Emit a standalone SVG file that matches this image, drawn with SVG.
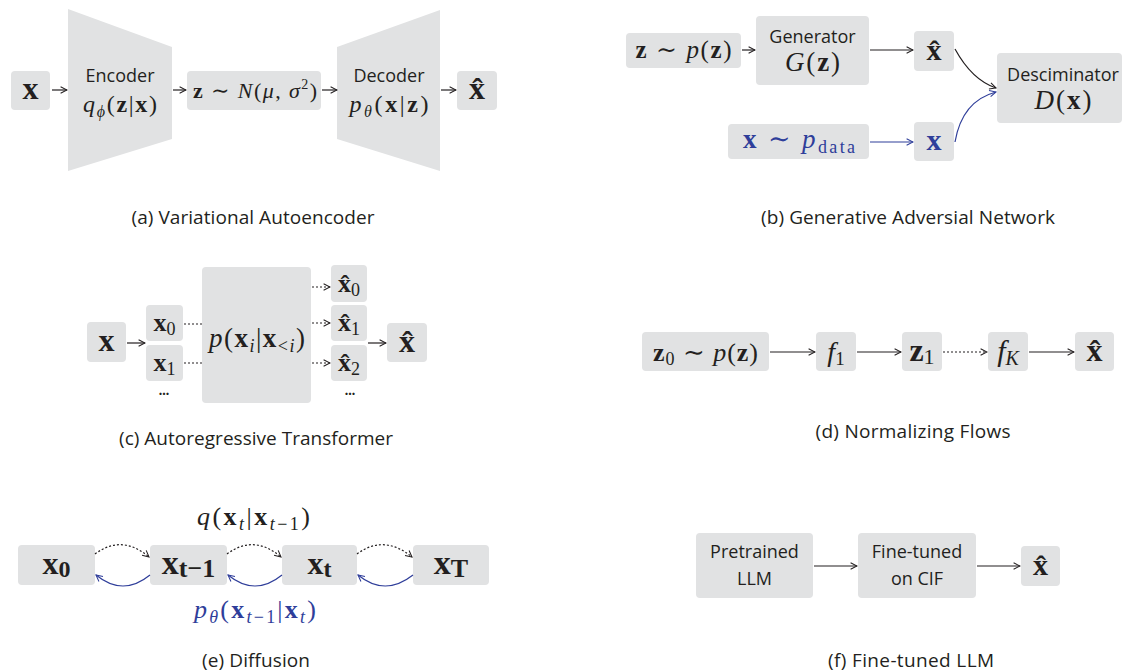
<svg xmlns="http://www.w3.org/2000/svg" width="1124" height="672" viewBox="0 0 1124 672">
  <style>
    .box { fill: #e1e2e3; }
    .lbl { font-family: "Open Sans", "Noto Sans", sans-serif; fill: #231f20; }
    .cap { font-family: "Open Sans", "Noto Sans", sans-serif; fill: #231f20; font-size: 19px; text-anchor: middle; }
    .m { font-family: "Liberation Serif", "DejaVu Serif", serif; fill: #231f20; text-anchor: middle; }
    .b { font-weight: bold; font-style: normal; }
    .i { font-style: italic; }
    .blue { fill: #2f3e9a; }
    .ln { fill: none; stroke: #231f20; stroke-width: 1.2; }
    .lnb { fill: none; stroke: #2f3e9a; stroke-width: 1.2; }
    .dot { stroke-dasharray: 2 2; }
  </style>
  <defs>
    <marker id="arr" viewBox="0 0 10 10" refX="9" refY="5" markerWidth="8" markerHeight="8" markerUnits="userSpaceOnUse" orient="auto">
      <path d="M1,1 L9,5 L1,9" fill="none" stroke="#231f20" stroke-width="1.3"/>
    </marker>
    <marker id="arrb" viewBox="0 0 10 10" refX="9" refY="5" markerWidth="8" markerHeight="8" markerUnits="userSpaceOnUse" orient="auto">
      <path d="M1,1 L9,5 L1,9" fill="none" stroke="#2f3e9a" stroke-width="1.3"/>
    </marker>
  </defs>

  <!-- (a) Variational Autoencoder -->
  <g id="vae-x">
    <rect class="box" x="11" y="71" width="39" height="39" rx="4"/>
    <text class="m b" x="30.5" y="99" font-size="32">x</text>
  </g>
  <g id="vae-encoder">
    <polygon class="box" points="68,9 172,47 172,139 68,171"/>
    <text class="lbl" x="120" y="82" font-size="18" text-anchor="middle">Encoder</text>
    <text class="m" x="120" y="112" font-size="24" textLength="74" lengthAdjust="spacing"><tspan class="i">q</tspan><tspan class="i" font-size="16" dy="5">ϕ</tspan><tspan dy="-5">(</tspan><tspan class="b">z</tspan>|<tspan class="b">x</tspan>)</text>
  </g>
  <g id="vae-latent">
    <rect class="box" x="187" y="71" width="134" height="39" rx="4"/>
    <text class="m" x="255" y="98" font-size="22" textLength="124" lengthAdjust="spacing"><tspan class="b">z</tspan> ∼ <tspan class="i">N</tspan>(<tspan class="i">μ</tspan>, <tspan class="i">σ</tspan><tspan font-size="14" dy="-9">2</tspan><tspan dy="9">)</tspan></text>
  </g>
  <g id="vae-decoder">
    <polygon class="box" points="337,47 440,10 440,171 337,139"/>
    <text class="lbl" x="389" y="82" font-size="18" text-anchor="middle">Decoder</text>
    <text class="m" x="389" y="112" font-size="24" textLength="79" lengthAdjust="spacing"><tspan class="i">p</tspan><tspan class="i" font-size="16" dy="5">θ</tspan><tspan dy="-5">(</tspan><tspan class="b">x</tspan>|<tspan class="b">z</tspan>)</text>
  </g>
  <g id="vae-xhat">
    <rect class="box" x="457" y="71" width="40" height="39" rx="4"/>
    <text class="m b" x="477" y="99" font-size="32">x̂</text>
  </g>
  <text class="cap" x="253" y="224" textLength="243" lengthAdjust="spacing">(a) Variational Autoencoder</text>

  <!-- (b) Generative Adversarial Network -->
  <g id="gan-noise">
    <rect class="box" x="626" y="33" width="115" height="35" rx="4"/>
    <text class="m" x="683.5" y="58" font-size="25" textLength="96" lengthAdjust="spacing"><tspan class="b">z</tspan> ∼ <tspan class="i">p</tspan>(<tspan class="b">z</tspan>)</text>
  </g>
  <g id="gan-generator">
    <rect class="box" x="756" y="16" width="113" height="69" rx="4"/>
    <text class="lbl" x="812.5" y="43" font-size="18" text-anchor="middle">Generator</text>
    <text class="m" x="812.5" y="71" font-size="27" textLength="55" lengthAdjust="spacing"><tspan class="i">G</tspan>(<tspan class="b">z</tspan>)</text>
  </g>
  <g id="gan-xhat">
    <rect class="box" x="914" y="31" width="40" height="40" rx="4"/>
    <text class="m b" x="934" y="60" font-size="30">x̂</text>
  </g>
  <g id="gan-data">
    <rect class="box" x="728" y="124" width="141" height="35" rx="4"/>
    <text class="m blue" x="799" y="148" font-size="27" textLength="112" lengthAdjust="spacing"><tspan class="b">x</tspan> ∼ <tspan class="i">p</tspan><tspan font-size="18" dy="5">data</tspan></text>
  </g>
  <g id="gan-x">
    <rect class="box" x="914" y="122" width="40" height="39" rx="4"/>
    <text class="m b blue" x="934" y="150" font-size="30">x</text>
  </g>
  <g id="gan-discriminator">
    <rect class="box" x="997" y="53" width="125" height="70" rx="4"/>
    <text class="lbl" x="1063" y="81" font-size="18" text-anchor="middle">Desciminator</text>
    <text class="m" x="1063" y="109" font-size="27" textLength="57" lengthAdjust="spacing"><tspan class="i">D</tspan>(<tspan class="b">x</tspan>)</text>
  </g>
  <text class="cap" x="908" y="224" textLength="294" lengthAdjust="spacing">(b) Generative Adversial Network</text>

  <!-- (c) Autoregressive Transformer -->
  <g id="ar-x">
    <rect class="box" x="87" y="322" width="39" height="40" rx="4"/>
    <text class="m b" x="106.5" y="351" font-size="32">x</text>
  </g>
  <g id="ar-x0">
    <rect class="box" x="146" y="305" width="37" height="36" rx="4"/>
    <text class="m" x="164.5" y="331" font-size="26"><tspan class="b">x</tspan><tspan font-size="18" dy="4">0</tspan></text>
  </g>
  <g id="ar-x1">
    <rect class="box" x="146" y="345" width="37" height="36" rx="4"/>
    <text class="m" x="164.5" y="371" font-size="26"><tspan class="b">x</tspan><tspan font-size="18" dy="4">1</tspan></text>
  </g>
  <text class="m b" x="164" y="395" font-size="14">...</text>
  <g id="ar-model">
    <rect class="box" x="202" y="267" width="109" height="136" rx="4"/>
    <text class="m" x="257" y="347" font-size="27" textLength="96" lengthAdjust="spacing"><tspan class="i">p</tspan>(<tspan class="b">x</tspan><tspan class="i" font-size="18" dy="5">i</tspan><tspan dy="-5">|</tspan><tspan class="b">x</tspan><tspan font-size="18" dy="5">&lt;</tspan><tspan class="i" font-size="18">i</tspan><tspan dy="-5">)</tspan></text>
  </g>
  <g id="ar-xhat0">
    <rect class="box" x="331" y="265" width="36" height="37" rx="4"/>
    <text class="m" x="349" y="292" font-size="26"><tspan class="b">x̂</tspan><tspan font-size="18" dy="4">0</tspan></text>
  </g>
  <g id="ar-xhat1">
    <rect class="box" x="331" y="305" width="36" height="36" rx="4"/>
    <text class="m" x="349" y="331" font-size="26"><tspan class="b">x̂</tspan><tspan font-size="18" dy="4">1</tspan></text>
  </g>
  <g id="ar-xhat2">
    <rect class="box" x="331" y="345" width="36" height="36" rx="4"/>
    <text class="m" x="349" y="371" font-size="26"><tspan class="b">x̂</tspan><tspan font-size="18" dy="4">2</tspan></text>
  </g>
  <text class="m b" x="350" y="395" font-size="14">...</text>
  <g id="ar-xhat">
    <rect class="box" x="387" y="323" width="40" height="39" rx="4"/>
    <text class="m b" x="407" y="352" font-size="32">x̂</text>
  </g>
  <text class="cap" x="256" y="445" textLength="274" lengthAdjust="spacing">(c) Autoregressive Transformer</text>

  <!-- (d) Normalizing Flows -->
  <g id="nf-z0">
    <rect class="box" x="642" y="332" width="127" height="39" rx="4"/>
    <text class="m" x="705.5" y="361" font-size="26" textLength="105" lengthAdjust="spacing"><tspan class="b">z</tspan><tspan font-size="18" dy="4">0</tspan><tspan dy="-4"> ∼ </tspan><tspan class="i">p</tspan>(<tspan class="b">z</tspan>)</text>
  </g>
  <g id="nf-f1">
    <rect class="box" x="816" y="332" width="40" height="39" rx="4"/>
    <text class="m" x="836" y="361" font-size="28"><tspan class="i">f</tspan><tspan font-size="19" dy="4">1</tspan></text>
  </g>
  <g id="nf-z1">
    <rect class="box" x="902" y="332" width="40" height="39" rx="4"/>
    <text class="m" x="922" y="361" font-size="32"><tspan class="b">z</tspan><tspan font-size="22" dy="3">1</tspan></text>
  </g>
  <g id="nf-fk">
    <rect class="box" x="988" y="332" width="40" height="39" rx="4"/>
    <text class="m" x="1008" y="361" font-size="30"><tspan class="i">f</tspan><tspan class="i" font-size="20" dy="4">K</tspan></text>
  </g>
  <g id="nf-xhat">
    <rect class="box" x="1075" y="332" width="39" height="39" rx="4"/>
    <text class="m b" x="1094.5" y="361" font-size="32">x̂</text>
  </g>
  <text class="cap" x="913" y="438" textLength="195" lengthAdjust="spacing">(d) Normalizing Flows</text>

  <!-- (e) Diffusion -->
  <g id="df-x0">
    <rect class="box" x="18" y="545" width="77" height="40" rx="4"/>
    <text class="m b" x="56.5" y="574" font-size="32">x<tspan font-size="24" dy="3">0</tspan></text>
  </g>
  <g id="df-xt1">
    <rect class="box" x="150" y="545" width="77" height="40" rx="4"/>
    <text class="m b" x="188.5" y="574" font-size="34">x<tspan font-size="26" dy="3">t−1</tspan></text>
  </g>
  <g id="df-xt">
    <rect class="box" x="282" y="545" width="75" height="40" rx="4"/>
    <text class="m b" x="319.5" y="574" font-size="32">x<tspan font-size="24" dy="3">t</tspan></text>
  </g>
  <g id="df-xT">
    <rect class="box" x="413" y="545" width="76" height="40" rx="4"/>
    <text class="m b" x="451" y="574" font-size="34">x<tspan font-size="26" dy="3">T</tspan></text>
  </g>
  <text class="m" x="253.5" y="525" font-size="26" textLength="113" lengthAdjust="spacing"><tspan class="i">q</tspan>(<tspan class="b">x</tspan><tspan class="i" font-size="18" dy="5">t</tspan><tspan dy="-5">|</tspan><tspan class="b">x</tspan><tspan class="i" font-size="18" dy="5">t</tspan><tspan font-size="18">−1</tspan><tspan dy="-5">)</tspan></text>
  <text class="m blue" x="255" y="618" font-size="26" textLength="122" lengthAdjust="spacing"><tspan class="i">p</tspan><tspan class="i" font-size="18" dy="5">θ</tspan><tspan dy="-5">(</tspan><tspan class="b">x</tspan><tspan class="i" font-size="18" dy="5">t</tspan><tspan font-size="18">−1</tspan><tspan dy="-5">|</tspan><tspan class="b">x</tspan><tspan class="i" font-size="18" dy="5">t</tspan><tspan dy="-5">)</tspan></text>
  <text class="cap" x="256" y="667" textLength="108" lengthAdjust="spacing">(e) Diffusion</text>

  <!-- (f) Fine-tuned LLM -->
  <g id="llm-pretrained">
    <rect class="box" x="696" y="533" width="117" height="65" rx="4"/>
    <text class="lbl" x="754.5" y="558" font-size="18" text-anchor="middle">Pretrained</text>
    <text class="lbl" x="754.5" y="585" font-size="18" text-anchor="middle">LLM</text>
  </g>
  <g id="llm-finetuned">
    <rect class="box" x="858" y="533" width="118" height="65" rx="4"/>
    <text class="lbl" x="917" y="558" font-size="18" text-anchor="middle">Fine-tuned</text>
    <text class="lbl" x="917" y="585" font-size="18" text-anchor="middle">on CIF</text>
  </g>
  <g id="llm-xhat">
    <rect class="box" x="1021" y="546" width="39" height="40" rx="4"/>
    <text class="m b" x="1040.5" y="575" font-size="30">x̂</text>
  </g>
  <text class="cap" x="911" y="667" textLength="166" lengthAdjust="spacing">(f) Fine-tuned LLM</text>

  <!-- connectors -->
  <g id="connectors">
    <!-- (a) -->
    <line class="ln" x1="52" y1="90" x2="67" y2="90" marker-end="url(#arr)"/>
    <line class="ln" x1="173" y1="90" x2="186" y2="90" marker-end="url(#arr)"/>
    <line class="ln" x1="322" y1="90" x2="337" y2="90" marker-end="url(#arr)"/>
    <line class="ln" x1="441" y1="90" x2="456" y2="90" marker-end="url(#arr)"/>
    <!-- (b) -->
    <line class="ln" x1="742" y1="50" x2="755" y2="50" marker-end="url(#arr)"/>
    <line class="ln" x1="870" y1="50" x2="913" y2="50" marker-end="url(#arr)"/>
    <path class="ln" d="M955,49 Q972,80 996,88" marker-end="url(#arr)"/>
    <line class="lnb" x1="870" y1="142" x2="913" y2="142" marker-end="url(#arrb)"/>
    <path class="lnb" d="M955,142 Q962,101 996,92" marker-end="url(#arrb)"/>
    <!-- (c) -->
    <line class="ln" x1="127" y1="343" x2="145" y2="343" marker-end="url(#arr)"/>
    <line class="ln dot" x1="184" y1="324" x2="202" y2="324"/>
    <line class="ln dot" x1="184" y1="363" x2="202" y2="363"/>
    <line class="ln dot" x1="312" y1="287" x2="330" y2="287" marker-end="url(#arr)"/>
    <line class="ln dot" x1="312" y1="323" x2="330" y2="323" marker-end="url(#arr)"/>
    <line class="ln dot" x1="312" y1="363" x2="330" y2="363" marker-end="url(#arr)"/>
    <line class="ln" x1="368" y1="343" x2="386" y2="343" marker-end="url(#arr)"/>
    <!-- (d) -->
    <line class="ln" x1="770" y1="352" x2="815" y2="352" marker-end="url(#arr)"/>
    <line class="ln" x1="857" y1="352" x2="901" y2="352" marker-end="url(#arr)"/>
    <line class="ln dot" x1="943" y1="352" x2="987" y2="352" marker-end="url(#arr)"/>
    <line class="ln" x1="1029" y1="352" x2="1074" y2="352" marker-end="url(#arr)"/>
    <!-- (e) forward (dotted) and reverse (blue) steps -->
    <path class="ln dot" d="M95,554 Q122,534 149,557" marker-end="url(#arr)"/>
    <path class="ln dot" d="M227,554 Q254,534 281,557" marker-end="url(#arr)"/>
    <path class="ln dot" d="M357,554 Q384,534 412,557" marker-end="url(#arr)"/>
    <path class="lnb" d="M150,575 Q123,597 96,575" marker-end="url(#arrb)"/>
    <path class="lnb" d="M282,575 Q255,597 228,575" marker-end="url(#arrb)"/>
    <path class="lnb" d="M413,575 Q385,597 358,575" marker-end="url(#arrb)"/>
    <!-- (f) -->
    <line class="ln" x1="814" y1="566" x2="857" y2="566" marker-end="url(#arr)"/>
    <line class="ln" x1="977" y1="566" x2="1020" y2="566" marker-end="url(#arr)"/>
  </g>
</svg>
